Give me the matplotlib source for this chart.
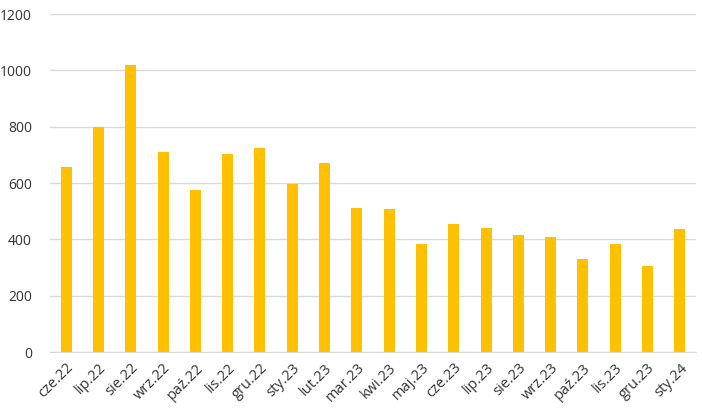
import matplotlib
matplotlib.use("Agg")
import matplotlib.pyplot as plt
import numpy as np

# monthly values
months = ["cze.22", "lip.22", "sie.22", "wrz.22", "paź.22", "lis.22", "gru.22",
          "sty.23", "lut.23", "mar.23", "kwi.23", "maj.23", "cze.23", "lip.23",
          "sie.23", "wrz.23", "paź.23", "lis.23", "gru.23", "sty.24"]
values = [658, 800, 1019, 710, 575, 703, 724, 596, 672, 511,
          508, 383, 454, 440, 415, 408, 331, 383, 305, 437]
yticks = [0, 200, 400, 600, 800, 1000, 1200]

plt.rcParams['font.family'] = ['Open Sans', 'DejaVu Sans']

fig = plt.figure(figsize=(7.02, 4.16), dpi=100)
ax = fig.add_axes([0.0712, 0.1538, 0.9202, 0.8125])

x = np.arange(len(months))
ax.bar(x, values, width=0.34, color="#FFC000", zorder=3)

ax.set_xlim(-0.5, len(months) - 0.5)
ax.set_ylim(0, 1200)
ax.set_yticks(yticks)
ax.set_yticklabels([str(v) for v in yticks], fontsize=10, color="#333333")
ax.grid(axis="y", color="#D9D9D9", linewidth=1, zorder=0)

ax.set_xticks(x)
ax.set_xticklabels(months, rotation=45, ha="right", va="top",
                   rotation_mode="anchor", fontsize=10.5, color="#333333")

for s in ["top", "right", "left"]:
    ax.spines[s].set_visible(False)
ax.spines["bottom"].set_color("#D9D9D9")
ax.tick_params(axis="both", length=0)
ax.tick_params(axis="y", pad=13)
ax.tick_params(axis="x", pad=6)

fig.savefig("out.png", dpi=100)
